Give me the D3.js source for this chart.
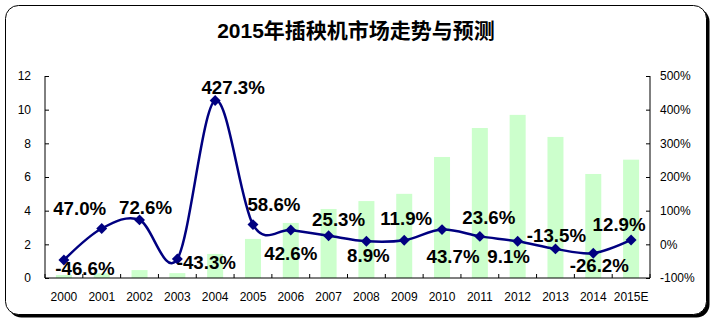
<!DOCTYPE html>
<html>
<head>
<meta charset="utf-8">
<script src="https://cdn.jsdelivr.net/npm/d3@7"></script>
<style>
  html, body { margin: 0; padding: 0; background: #fff; }
  svg { display: block; }
  .tick text { font-family: "Liberation Sans", Arial, sans-serif; font-size: 12px; fill: #000; }
</style>
</head>
<body>
<svg id="chart" width="717" height="324"></svg>
<script>
// Rice transplanter market: annual volume (bars, left axis) and growth rate (line, right axis)
const years = ["2000","2001","2002","2003","2004","2005","2006","2007","2008","2009","2010","2011","2012","2013","2014","2015E"];
const volume = [0.18, 0.28, 0.47, 0.29, 1.43, 2.32, 3.27, 4.10, 4.57, 5.00, 7.19, 8.91, 9.69, 8.38, 6.18, 7.03];
const growth = [-46.6, 47.0, 72.6, -43.3, 427.3, 58.6, 42.6, 25.3, 8.9, 11.9, 43.7, 23.6, 9.1, -13.5, -26.2, 12.9];
const leftTicks = [0, 2, 4, 6, 8, 10, 12];
const rightTicks = [-100, 0, 100, 200, 300, 400, 500];
const title = "2015年插秧机市场走势与预测";

// label placement relative to each marker (dx, dy of the text baseline centre)
const labelOffset = [
  [21, 15], [-22, -14], [6, -6], [29, 10], [18, -6], [21, -14], [0, 30], [10, -10],
  [2, 21], [2, -15], [11, 33], [9, -12], [-9, 22], [1, -7], [6, 19], [-12, -9]
];

const svg = d3.select("#chart");

// frame with drop shadow
svg.append("rect").attr("x", 8.5).attr("y", 8.5).attr("width", 701).attr("height", 309)
  .attr("rx", 13).attr("fill", "#000");
svg.append("rect").attr("x", 5.5).attr("y", 5.5).attr("width", 701).attr("height", 309)
  .attr("rx", 13).attr("fill", "#fff").attr("stroke", "#000").attr("stroke-width", 1);

svg.append("text")
  .attr("x", 356).attr("y", 38)
  .attr("text-anchor", "middle")
  .style("font-family", "'Liberation Sans', 'Noto Sans CJK SC', sans-serif")
  .style("font-weight", "bold")
  .style("font-size", "21px")
  .text(title);

const plotLeft = 45, plotRight = 650, plotTop = 76, plotBottom = 278;

const x = d3.scaleBand().domain(years).range([plotLeft, plotRight]).padding(0);
const yL = d3.scaleLinear().domain([0, 12]).range([plotBottom, plotTop]);
const yR = d3.scaleLinear().domain([-100, 500]).range([plotBottom, plotTop]);

// bars
const barW = 16;
svg.append("g").selectAll("rect").data(years).join("rect")
  .attr("x", (d) => x(d) + x.bandwidth() / 2 - barW / 2)
  .attr("width", barW)
  .attr("y", (d, i) => yL(volume[i]))
  .attr("height", (d, i) => yL(0) - yL(volume[i]))
  .attr("fill", "#CCFFCC");

// axes
const axL = svg.append("g").attr("transform", `translate(${plotLeft},0)`)
  .call(d3.axisLeft(yL).tickValues(leftTicks).tickSize(-4).tickPadding(14).tickFormat((d) => String(d)));
const axR = svg.append("g").attr("transform", `translate(${plotRight},0)`)
  .call(d3.axisRight(yR).tickValues(rightTicks).tickSize(-4).tickPadding(10).tickFormat((d) => d + "%"));
const axB = svg.append("g").attr("transform", `translate(0,${plotBottom})`)
  .call(d3.axisBottom(x).tickSize(0).tickPadding(14));
[axL, axR, axB].forEach((g) => {
  g.select(".domain").attr("stroke", "#000").attr("stroke-width", 1);
  g.selectAll(".tick line").attr("stroke", "#000");
});
axL.select(".domain").attr("d", `M0,${plotTop}V${plotBottom}`);
axR.select(".domain").attr("d", `M0,${plotTop}V${plotBottom}`);
axB.select(".domain").attr("d", `M${plotLeft},0H${plotRight}`);

// category boundary ticks on the x axis
const bounds = years.map((d) => x(d)).concat([plotRight]);
svg.append("g").selectAll("line").data(bounds).join("line")
  .attr("x1", (d) => d).attr("x2", (d) => d)
  .attr("y1", plotBottom).attr("y2", plotBottom - 4)
  .attr("stroke", "#000");

// growth line
const pts = years.map((d, i) => [x(d) + x.bandwidth() / 2, yR(growth[i])]);
svg.append("path")
  .attr("d", d3.line().curve(d3.curveCardinal.tension(0))(pts))
  .attr("fill", "none").attr("stroke", "#000080").attr("stroke-width", 2.5);

svg.append("g").selectAll("path").data(pts).join("path")
  .attr("d", d3.symbol(d3.symbolSquare, 60)())
  .attr("transform", (p) => `translate(${p[0]},${p[1]}) rotate(45)`)
  .attr("fill", "#000080");

// value labels (plain hyphen for negatives)
svg.append("g").selectAll("text").data(pts).join("text")
  .attr("x", (p, i) => p[0] + labelOffset[i][0])
  .attr("y", (p, i) => p[1] + labelOffset[i][1])
  .attr("text-anchor", "middle")
  .style("font-family", "'Liberation Sans', Arial, sans-serif")
  .style("font-weight", "bold")
  .style("font-size", "18.7px")
  .text((p, i) => growth[i].toFixed(1) + "%");
</script>
</body>
</html>
